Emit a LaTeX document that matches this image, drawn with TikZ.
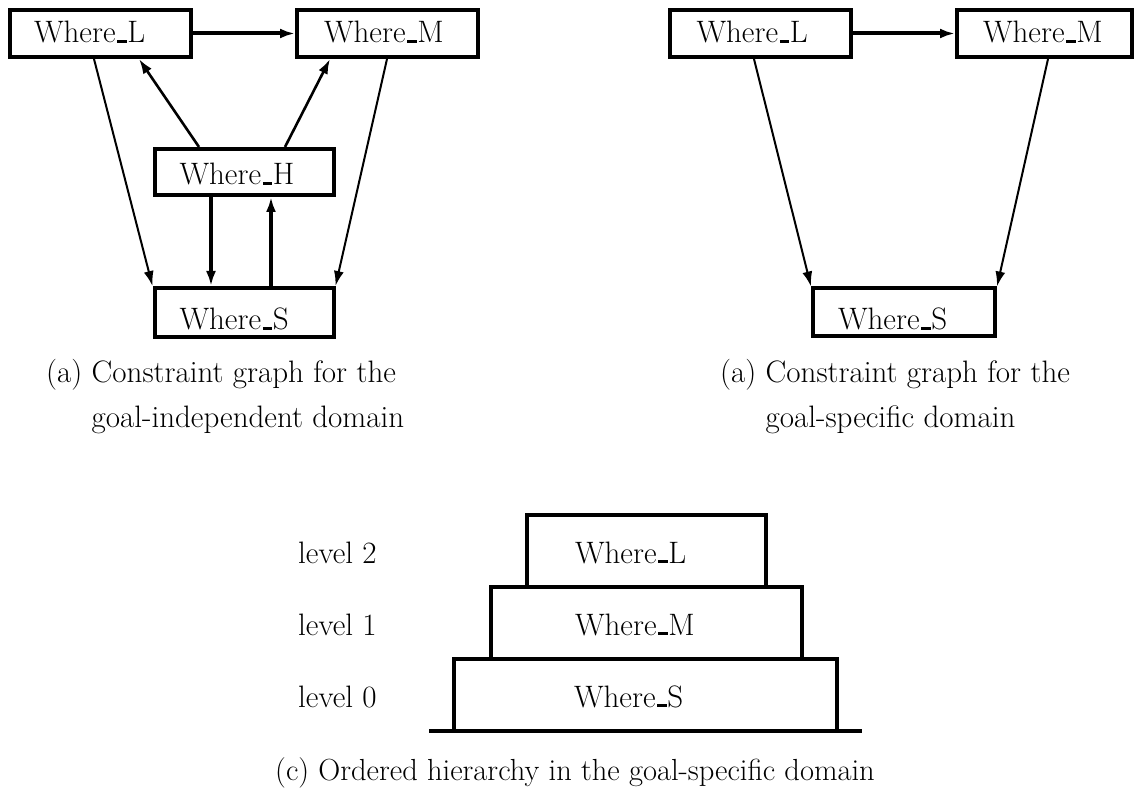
\documentclass[tikz,border=0pt]{standalone}
\usetikzlibrary{arrows.meta}
\newcommand\figfont{\fontsize{31}{37}\selectfont}
\newcommand\subcapfont{\fontsize{30.5}{37}\selectfont}
% short underscore sitting on the baseline
\newcommand\us{\kern.06em\vbox{\hrule width.3em height.09em}\kern.02em}
\begin{document}
\begin{tikzpicture}[x=1pt,y=-1pt,
  font=\figfont,
  box/.style={draw, line width=4pt, inner sep=0pt, align=left},
  lbl/.style={inner sep=0pt},
  tip/.style={-{Latex[length=15pt,width=10pt]}},
  heavy/.style={tip, line width=4pt},
  medium/.style={tip, line width=2.6pt},
  light/.style={tip, line width=2pt}]
\useasboundingbox (0,0) rectangle (1135,791);

% ---- (a) goal-independent constraint graph ----
\node[box, text width=181pt, minimum height=47pt, text height=19pt, text depth=0pt]
  (L1) at (100.5,33.5) {\hspace*{24pt}Where\us L};
\node[box, text width=181pt, minimum height=47pt, text height=19pt, text depth=0pt]
  (M1) at (387.5,33.5) {\hspace*{27pt}Where\us M};
\node[box, text width=179pt, minimum height=46pt, text height=26pt, text depth=0pt]
  (H1) at (244,172) {\hspace*{25pt}Where\us H};
\node[box, text width=179pt, minimum height=49pt, text height=35pt, text depth=0pt]
  (S1) at (244,312.5) {\hspace*{25pt}Where\us S};

\draw[heavy] (L1.east) -- (M1.west);
\draw[medium] ([xshift=46.5pt]H1.north west) -- ([xshift=131pt]L1.south west);
\draw[medium] ([xshift=132.5pt]H1.north west) -- ([xshift=35pt]M1.south west);
\draw[light] ([xshift=86pt]L1.south west) -- (S1.north west);
\draw[light] ([xshift=92pt]M1.south west) -- (S1.north east);
\draw[heavy] ([xshift=58.5pt]H1.south west) -- ([xshift=58.5pt]S1.north west);
\draw[heavy] ([xshift=118.5pt]S1.north west) -- ([xshift=118.5pt]H1.south west);

\node[lbl, anchor=base west] (capA1) at (46,382) {(a) Constraint graph for the};
\node[lbl, anchor=base west] (capA2) at ([yshift=-45pt]capA1.base west)
  {\phantom{(a) }goal-independent domain};

% ---- (b) goal-specific constraint graph ----
\node[box, text width=181pt, minimum height=47pt, text height=19pt, text depth=0pt]
  (L2) at (760,33.5) {\hspace*{27pt}Where\us L};
\node[box, text width=175pt, minimum height=47pt, text height=19pt, text depth=0pt]
  (M2) at (1044.5,33.5) {\hspace*{26pt}Where\us M};
\node[box, text width=182pt, minimum height=48pt, text height=35pt, text depth=0pt]
  (S2) at (904,312.5) {\hspace*{25pt}Where\us S};

\draw[heavy] (L2.east) -- (M2.west);
\draw[light] ([xshift=86.5pt]L2.south west) -- (S2.north west);
\draw[light] ([xshift=93pt]M2.south west) -- (S2.north east);

\node[lbl, anchor=base west] (capB1) at (720,382) {(a) Constraint graph for the};
\node[lbl, anchor=base west] (capB2) at ([yshift=-45pt]capB1.base west)
  {\phantom{(a) }goal-specific domain};

% ---- (c) ordered hierarchy ----
\node[box, text width=383pt, minimum height=72pt, text height=24pt, text depth=0pt]
  (S3) at (645.5,695) {\hspace*{120pt}Where\us S};
\node[box, text width=311pt, minimum height=72pt, text height=24pt, text depth=0pt]
  (M3) at (646.5,623) {\hspace*{84pt}Where\us M};
\node[box, text width=239pt, minimum height=72pt, text height=24pt, text depth=0pt]
  (L3) at (646.5,551) {\hspace*{48pt}Where\us L};
\coordinate (g0) at (429,731);
\coordinate (g1) at (862,731);
\draw[line width=4pt] (g0) -- (g1);

\node[lbl, anchor=base west] (lv2) at (298,563) {level 2};
\node[lbl, anchor=base west] (lv1) at (298,635) {level 1};
\node[lbl, anchor=base west] (lv0) at (298,707) {level 0};

\node[lbl, font=\subcapfont, anchor=base west] (capC) at (275,780)
  {(c) Ordered hierarchy in the goal-specific domain};
\end{tikzpicture}
\end{document}
